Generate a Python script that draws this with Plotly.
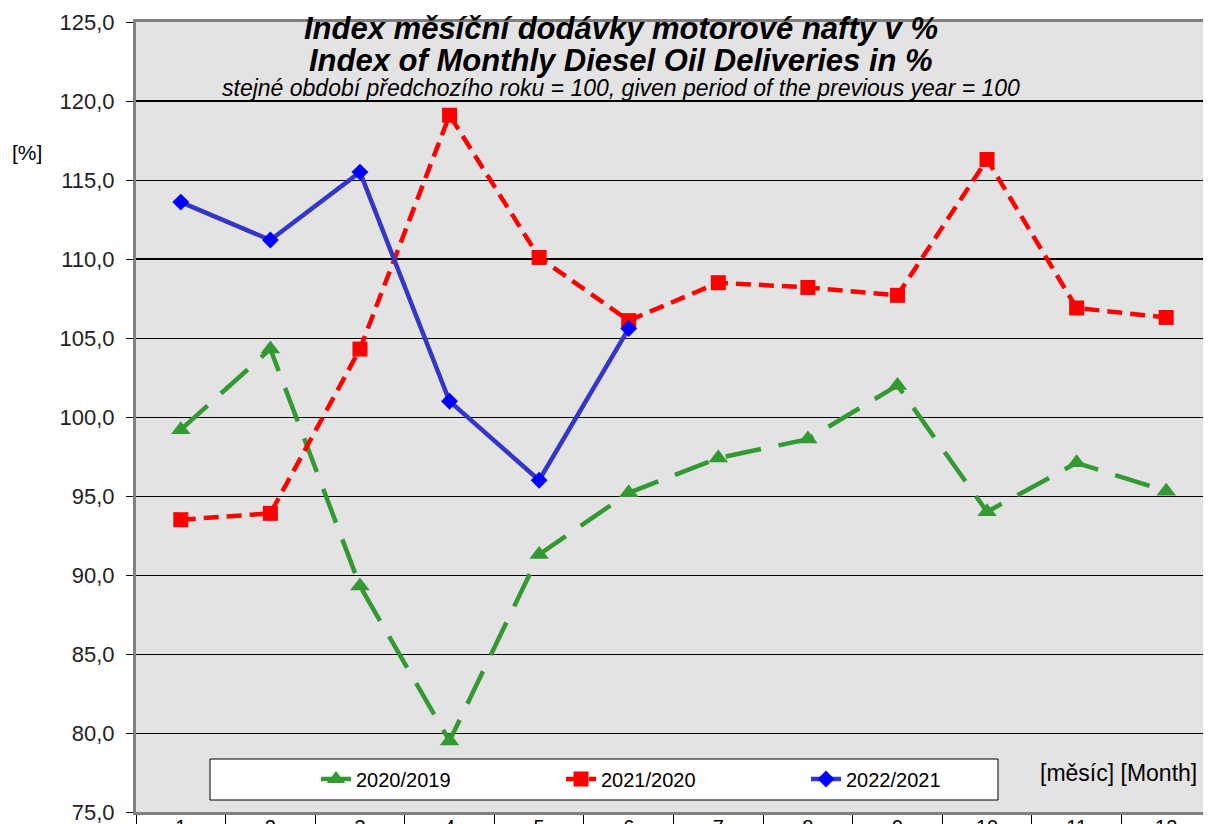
import plotly.graph_objects as go

months = [str(m) for m in range(1, 13)]
s2020 = [99.2, 104.3, 89.3, 79.5, 91.3, 95.2, 97.4, 98.6, 102.0, 94.0, 97.1, 95.3]
s2021 = [93.5, 93.9, 104.3, 119.1, 110.1, 106.1, 108.5, 108.2, 107.7, 116.3, 106.9, 106.3]
s2022 = [113.6, 111.2, 115.5, 101.0, 96.0, 105.6]
names = ["2020/2019", "2021/2020", "2022/2021"]

fig = go.Figure()
fig.add_trace(go.Scatter(
    x=months, y=s2020, name=names[0], mode="lines+markers",
    line=dict(color="#339933", width=4.5, dash="36px,18px"),
    marker=dict(symbol="triangle-up", size=17, color="#339933")))
fig.add_trace(go.Scatter(
    x=months, y=s2021, name=names[1], mode="lines+markers",
    line=dict(color="#ff0000", width=4.5, dash="15px,8px"),
    marker=dict(symbol="square", size=15, color="#ff0000")))
fig.add_trace(go.Scatter(
    x=months[:len(s2022)], y=s2022, name=names[2], mode="lines+markers",
    line=dict(color="#3535c8", width=4.5),
    marker=dict(symbol="diamond", size=13, color="#0000ff")))

# legend frame
fig.add_shape(type="rect", xref="paper", yref="paper",
              x0=(210 - 136) / 1075, x1=(998 - 136) / 1075,
              y0=(812 - 800) / 790, y1=(812 - 759) / 790,
              fillcolor="white", line=dict(color="black", width=1), layer="above")
# thicker gridlines
for v in [110, 120]:
    fig.add_shape(type="line", xref="paper", yref="y", x0=0, x1=1, y0=v, y1=v,
                  line=dict(color="black", width=2), layer="below")

font = "Liberation Sans, Arial, sans-serif"
fig.add_annotation(text="<b><i>Index měsíční dodávky motorové nafty v %</i></b>",
                   xref="paper", yref="paper", x=(621 - 136) / 1075, y=(812 - 28) / 790,
                   showarrow=False, font=dict(family=font, size=31, color="black"),
                   xanchor="center", yanchor="middle")
fig.add_annotation(text="<b><i>Index of Monthly Diesel Oil Deliveries in %</i></b>",
                   xref="paper", yref="paper", x=(621 - 136) / 1075, y=(812 - 60) / 790,
                   showarrow=False, font=dict(family=font, size=31, color="black"),
                   xanchor="center", yanchor="middle")
fig.add_annotation(text="<i>stejné období předchozího roku = 100, given period of the previous year = 100</i>",
                   xref="paper", yref="paper", x=(621 - 136) / 1075, y=(812 - 88) / 790,
                   showarrow=False, font=dict(family=font, size=23, color="black"),
                   xanchor="center", yanchor="middle")
fig.add_annotation(text="[%]", xref="paper", yref="paper",
                   x=(10 - 136) / 1075, y=(812 - 152) / 790, xanchor="left", yanchor="middle",
                   showarrow=False, font=dict(family=font, size=21, color="black"))
fig.add_annotation(text="[měsíc] [Month]", xref="paper", yref="paper",
                   x=(1199 - 136) / 1075, y=(812 - 773) / 790, xanchor="right", yanchor="middle",
                   showarrow=False, font=dict(family=font, size=23, color="black"))

# page body has an 8px margin: figure occupies page x 8..1211, y 8..824
fig.update_layout(
    width=1203, height=816,
    margin=dict(l=128, r=0, t=14, b=12),
    paper_bgcolor="white", plot_bgcolor="#e3e3e3",
    separators=", ",
    font=dict(family=font, size=20, color="black"),
    showlegend=True,
    legend=dict(orientation="h", x=(316 - 136) / 1075, y=(812 - 779) / 790,
                xanchor="left", yanchor="middle", bgcolor="rgba(0,0,0,0)",
                borderwidth=0, entrywidth=200, font=dict(size=20, family=font)),
)
fig.update_yaxes(range=[75, 125], dtick=5, tickformat=".1f", showgrid=True,
                 gridcolor="black", gridwidth=1, ticks="outside", ticklen=7,
                 tickcolor="black", showline=True, linecolor="#808080", linewidth=3,
                 mirror=True, zeroline=False, tickfont=dict(size=22, color="#222222"),
                 automargin=False, ticklabelstandoff=7, ticklabeloverflow="allow")
fig.update_xaxes(type="category", range=[-0.5, 11.5], showgrid=False, ticks="outside",
                 tickson="boundaries", ticklen=12, tickcolor="black", showline=True,
                 linecolor="#808080", linewidth=3, mirror=True, tickfont=dict(size=20),
                 automargin=False, ticklabeloverflow="allow", ticklabelstandoff=-5)

fig.write_html("out.html")
